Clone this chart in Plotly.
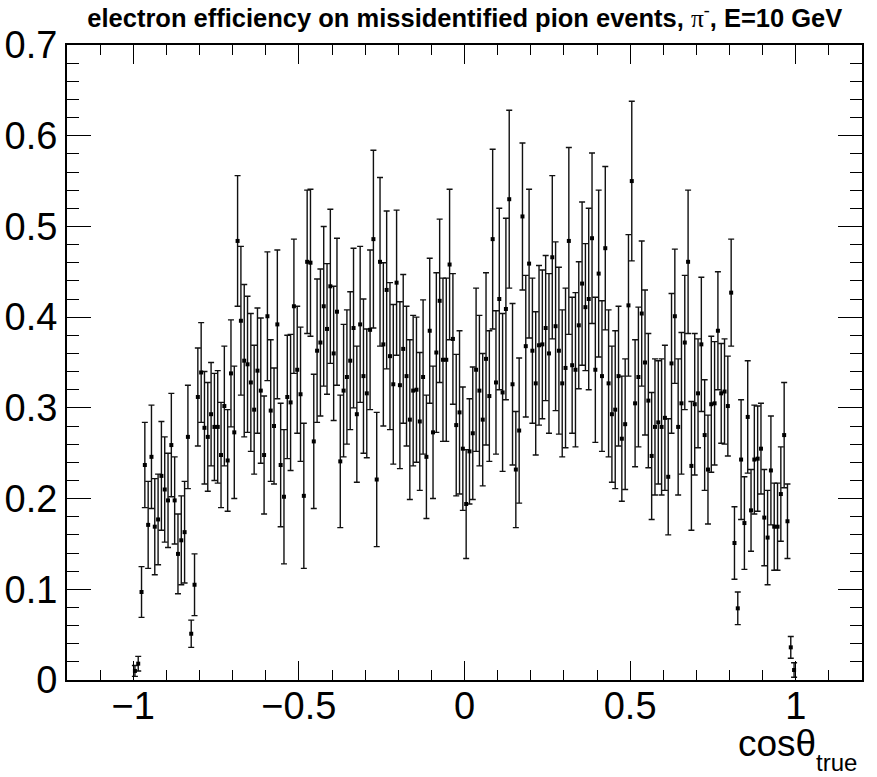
import plotly.graph_objects as go

# Histogram binning: 200 bins in cos(theta_true) from -1 to 1
bin_lo = -1.0
bin_hi = 1.0
n_bins = 200

# Efficiency values per bin (left to right)
eff = [
    0.010, 0.018, 0.097, 0.237, 0.171, 0.246, 0.169, 0.177, 0.225, 0.210,
    0.198, 0.259, 0.198, 0.139, 0.154, 0.163, 0.268, 0.051, 0.105, 0.312,
    0.339, 0.278, 0.268, 0.293, 0.279,
    0.279, 0.248, 0.302, 0.242, 0.338, 0.273, 0.484, 0.396, 0.352, 0.348,
    0.328, 0.298, 0.341, 0.319, 0.248, 0.401, 0.297, 0.280, 0.392, 0.237,
    0.202, 0.312, 0.306, 0.412, 0.342,
    0.315, 0.203, 0.461, 0.460, 0.263, 0.363, 0.372, 0.412, 0.387, 0.434,
    0.360, 0.406, 0.241, 0.319, 0.334, 0.352, 0.388, 0.293, 0.392, 0.335,
    0.316, 0.386, 0.486, 0.221, 0.461,
    0.370, 0.430, 0.357, 0.326, 0.438, 0.325, 0.365, 0.335, 0.287, 0.319,
    0.320, 0.285, 0.334, 0.246, 0.385, 0.273, 0.361, 0.418, 0.353, 0.353,
    0.458, 0.376, 0.281, 0.295, 0.255,
    0.194, 0.252, 0.272, 0.342, 0.319, 0.287, 0.354, 0.313, 0.486, 0.328,
    0.420, 0.317, 0.409, 0.530, 0.326, 0.232, 0.275, 0.511, 0.368, 0.459,
    0.363, 0.327, 0.369, 0.370, 0.388,
    0.360, 0.466, 0.390, 0.363, 0.327, 0.344, 0.484, 0.347, 0.342, 0.391,
    0.437, 0.411, 0.420, 0.487, 0.342, 0.448, 0.335, 0.476, 0.327, 0.293,
    0.298, 0.335, 0.266, 0.282, 0.413, 0.550,
    0.305, 0.334, 0.404, 0.350, 0.308, 0.247, 0.279, 0.284, 0.279, 0.289,
    0.224, 0.349, 0.401, 0.279, 0.305, 0.372, 0.461, 0.236, 0.304, 0.316,
    0.370, 0.270, 0.232, 0.304,
    0.305, 0.385, 0.316, 0.318, 0.302, 0.427, 0.151, 0.079, 0.243, 0.173,
    0.290, 0.187, 0.243, 0.244, 0.255, 0.179, 0.157, 0.231, 0.169, 0.169,
    0.205, 0.270, 0.175, 0.036, 0.011,
]

# Statistical uncertainty per bin
err = [
    0.006, 0.008, 0.028, 0.047, 0.048, 0.057, 0.053, 0.050, 0.060, 0.058,
    0.052, 0.057, 0.048, 0.044, 0.049, 0.056, 0.057, 0.015, 0.034, 0.054,
    0.055, 0.062, 0.060, 0.057, 0.059,
    0.062, 0.058, 0.066, 0.056, 0.059, 0.073, 0.072, 0.082, 0.084, 0.075,
    0.076, 0.071, 0.069, 0.080, 0.065, 0.071, 0.078, 0.064, 0.082, 0.068,
    0.074, 0.068, 0.075, 0.074, 0.070,
    0.074, 0.080, 0.079, 0.081, 0.074, 0.079, 0.081, 0.088, 0.072, 0.085,
    0.074, 0.081, 0.073, 0.073, 0.074, 0.076, 0.088, 0.075, 0.086, 0.085,
    0.071, 0.088, 0.098, 0.074, 0.093,
    0.090, 0.087, 0.081, 0.088, 0.080, 0.092, 0.082, 0.077, 0.088, 0.083,
    0.080, 0.076, 0.085, 0.068, 0.080, 0.073, 0.088, 0.090, 0.090, 0.090,
    0.083, 0.072, 0.078, 0.090, 0.068,
    0.060, 0.058, 0.073, 0.090, 0.083, 0.073, 0.095, 0.072, 0.099, 0.079,
    0.100, 0.087, 0.100, 0.098, 0.089, 0.064, 0.080, 0.081, 0.078, 0.082,
    0.080, 0.079, 0.088, 0.082, 0.080,
    0.088, 0.090, 0.093, 0.092, 0.081, 0.088, 0.103, 0.075, 0.085, 0.070,
    0.090, 0.070, 0.100, 0.094, 0.080, 0.092, 0.083, 0.090, 0.081, 0.075,
    0.087, 0.077, 0.069, 0.072, 0.078, 0.088,
    0.070, 0.077, 0.080, 0.080, 0.074, 0.070, 0.075, 0.068, 0.075, 0.080,
    0.064, 0.077, 0.074, 0.075, 0.078, 0.074, 0.079, 0.071, 0.078, 0.060,
    0.074, 0.061, 0.060, 0.075,
    0.068, 0.065, 0.055, 0.058, 0.055, 0.059, 0.040, 0.018, 0.066, 0.051,
    0.062, 0.045, 0.060, 0.058, 0.050, 0.053, 0.052, 0.060, 0.048, 0.048,
    0.052, 0.058, 0.041, 0.012, 0.008,
]

bin_w = (bin_hi - bin_lo) / n_bins
centers = [bin_lo + (i + 0.5) * bin_w for i in range(n_bins)]

title_text = ("<b>electron efficiency on missidentified pion events, </b>"
              "<span style='font-family:Liberation Serif;font-weight:normal'>π<sup>-</sup></span>"
              "<b>, E=10 GeV</b>")
x_title_main = "cosθ"
x_title_sub = "true"

fig = go.Figure()
fig.add_trace(go.Scatter(
    x=centers, y=eff, mode="markers",
    marker=dict(symbol="square", size=4, color="black"),
    error_y=dict(type="data", array=err, visible=True, color="#111111",
                 thickness=1.4, width=3),
    showlegend=False,
))

sans = "Liberation Sans, Arial, sans-serif"
axis_font = dict(family=sans, size=38, color="black")

fig.update_layout(
    width=877, height=777,
    margin=dict(l=67, r=15, t=45, b=97),
    paper_bgcolor="white", plot_bgcolor="white",
    title=dict(text=title_text, x=0.53, xanchor="center", y=1 - 18 / 777,
               yanchor="middle", yref="container",
               font=dict(family=sans, size=25.5, color="black")),
    xaxis=dict(range=[-1.2, 1.2], showgrid=False, zeroline=False, automargin=False,
               showline=True, linecolor="black", linewidth=2, mirror="allticks",
               ticks="inside", ticklen=19, tickwidth=1.2, tickcolor="black",
               ticklabelstandoff=-9,
               tickvals=[-1, -0.5, 0, 0.5, 1], ticktext=["−1", "−0.5", "0", "0.5", "1"],
               minor=dict(dtick=0.1, tick0=0, ticks="inside", ticklen=10,
                          tickwidth=1.2, tickcolor="black"),
               tickfont=axis_font),
    yaxis=dict(range=[0, 0.7], showgrid=False, zeroline=False, automargin=False,
               showline=True, linecolor="black", linewidth=2, mirror="allticks",
               ticks="inside", ticklen=24, tickwidth=1.2, tickcolor="black",
               tickvals=[0, 0.1, 0.2, 0.3, 0.4, 0.5, 0.6, 0.7],
               ticktext=["0", "0.1", "0.2", "0.3", "0.4", "0.5", "0.6", "0.7"],
               minor=dict(dtick=0.02, tick0=0, ticks="inside", ticklen=12,
                          tickwidth=1.2, tickcolor="black"),
               tickfont=axis_font),
    annotations=[
        dict(text=x_title_main, xref="paper", yref="paper", x=1, y=0,
             xanchor="right", yanchor="middle", xshift=-44, yshift=-63,
             showarrow=False, font=dict(family=sans, size=37, color="black")),
        dict(text=x_title_sub, xref="paper", yref="paper", x=1, y=0,
             xanchor="right", yanchor="middle", xshift=-3, yshift=-82,
             showarrow=False, font=dict(family=sans, size=24, color="black")),
    ],
)

fig.write_html("out.html")
